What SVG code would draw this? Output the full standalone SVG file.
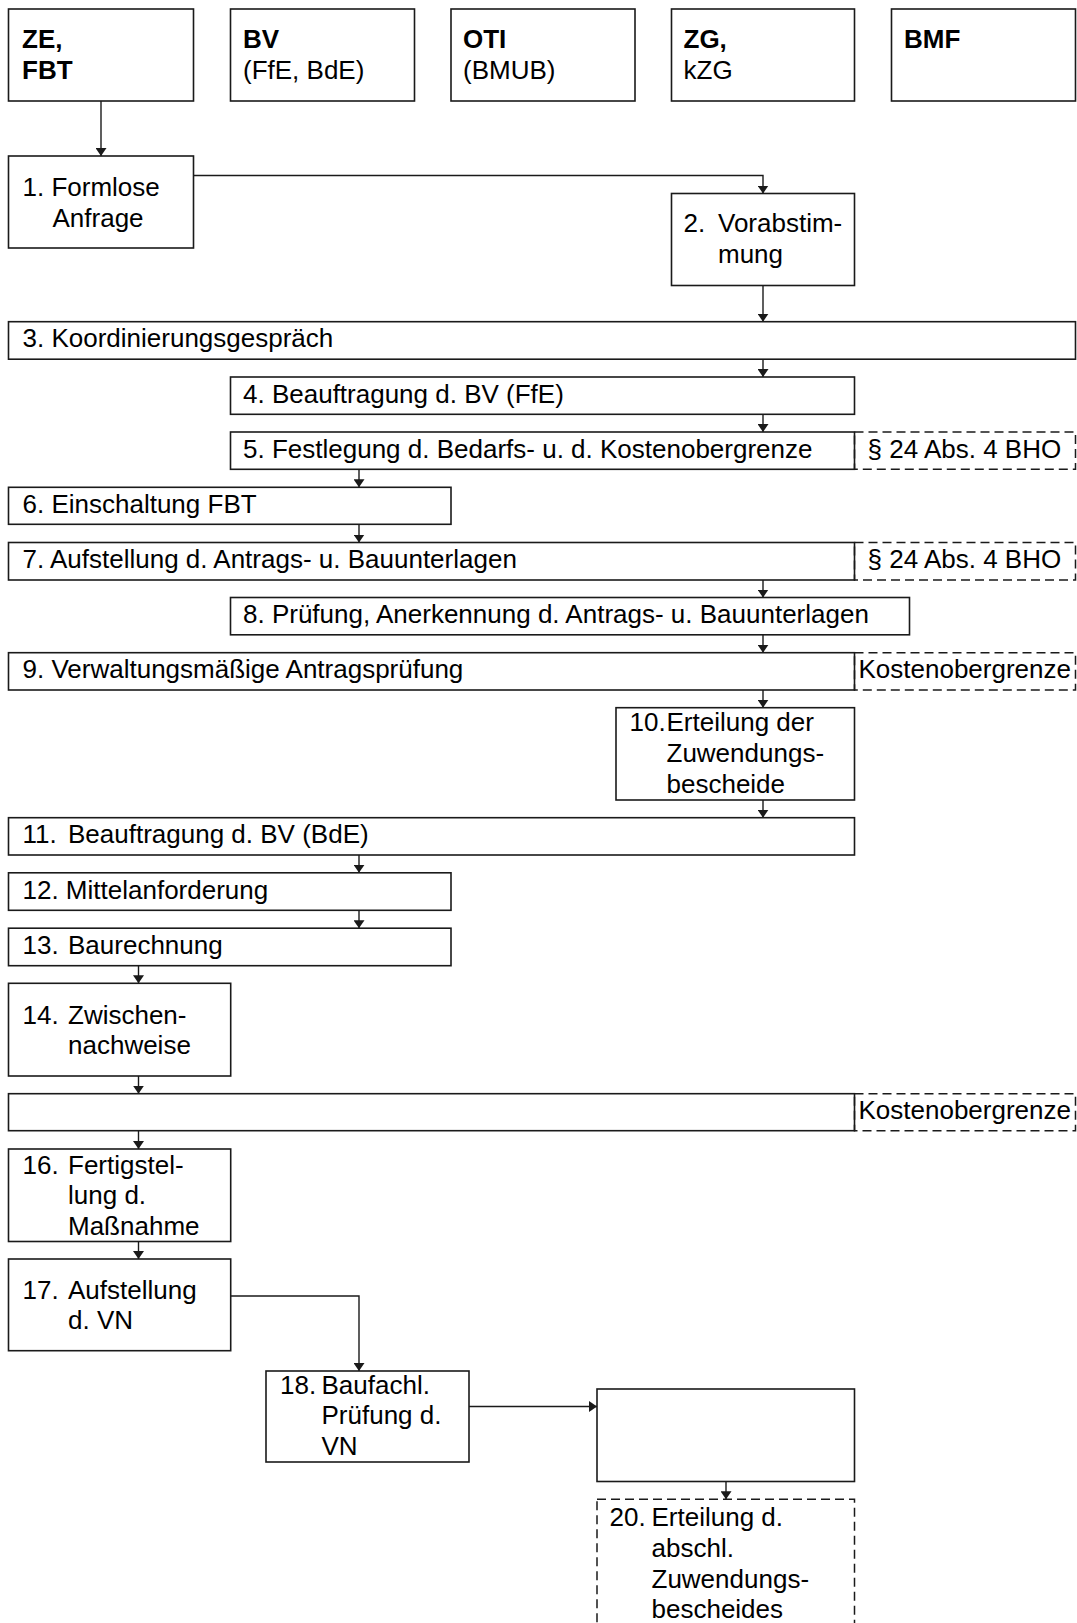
<svg xmlns="http://www.w3.org/2000/svg" width="1077" height="1623" viewBox="0 0 1077 1623">
<style>
  .bx { fill: #fff; stroke: #1a1a1a; stroke-width: 1.6; }
  .dbx { fill: none; stroke: #1a1a1a; stroke-width: 1.5; stroke-dasharray: 9 5; }
  .cn { fill: none; stroke: #1a1a1a; stroke-width: 1.4; marker-end: url(#ah); }
  text { font-family: "Liberation Sans", Arial, sans-serif; font-size: 26px; fill: #000; }
  .b { font-weight: bold; }
</style>
<defs>
  <marker id="ah" viewBox="0 0 8 11" refX="8" refY="5.5" markerWidth="8" markerHeight="11" markerUnits="userSpaceOnUse" orient="auto">
    <path d="M0,0 L8,5.5 L0,11 z" fill="#1a1a1a"/>
  </marker>
</defs>
<rect width="1077" height="1623" fill="#fff"/>

<g id="connectors">
  <path class="cn" d="M101,101 V156"/>
  <path class="cn" d="M193.5,175.5 H763 V193.5"/>
  <path class="cn" d="M763,285.5 V321.7"/>
  <path class="cn" d="M763,359.2 V377"/>
  <path class="cn" d="M763,414.3 V432"/>
  <path class="cn" d="M359,469.3 V487.3"/>
  <path class="cn" d="M359,524.3 V542.5"/>
  <path class="cn" d="M763,580 V597.5"/>
  <path class="cn" d="M763,634.8 V652.7"/>
  <path class="cn" d="M763,690 V707.7"/>
  <path class="cn" d="M763,800 V817.7"/>
  <path class="cn" d="M359,855 V872.8"/>
  <path class="cn" d="M359,910.3 V928.2"/>
  <path class="cn" d="M138.5,965.7 V983.3"/>
  <path class="cn" d="M138.5,1076 V1093.7"/>
  <path class="cn" d="M138.5,1130.7 V1149"/>
  <path class="cn" d="M138.5,1241.5 V1259"/>
  <path class="cn" d="M230.7,1296 H359 V1371"/>
  <path class="cn" d="M469,1406.5 H597"/>
  <path class="cn" d="M726,1481.5 V1499.3"/>
</g>

<g id="ze">
  <rect class="bx" x="8.5" y="9" width="185" height="92"/>
  <text class="b" x="22" y="48">ZE,</text>
  <text class="b" x="22" y="79">FBT</text>
</g>
<g id="bv">
  <rect class="bx" x="230.5" y="9" width="184" height="92"/>
  <text class="b" x="243" y="48">BV</text>
  <text x="243" y="79">(FfE, BdE)</text>
</g>
<g id="oti">
  <rect class="bx" x="451" y="9" width="184" height="92"/>
  <text class="b" x="463" y="48">OTI</text>
  <text x="463" y="79">(BMUB)</text>
</g>
<g id="zg">
  <rect class="bx" x="671.5" y="9" width="183" height="92"/>
  <text class="b" x="683.5" y="48">ZG,</text>
  <text x="683.5" y="79">kZG</text>
</g>
<g id="bmf">
  <rect class="bx" x="891.5" y="9" width="184" height="92"/>
  <text class="b" x="904" y="48">BMF</text>
</g>

<g id="n1">
  <rect class="bx" x="8.5" y="156" width="185" height="92"/>
  <text x="22.5" y="196">1. Formlose</text>
  <text x="52.5" y="227">Anfrage</text>
</g>
<g id="n2">
  <rect class="bx" x="671.5" y="193.5" width="183" height="92"/>
  <text x="683.5" y="232">2.</text>
  <text x="718" y="232">Vorabstim-</text>
  <text x="718" y="263">mung</text>
</g>
<g id="n3">
  <rect class="bx" x="8.5" y="321.7" width="1067" height="37.5"/>
  <text x="22.5" y="347.4">3. Koordinierungsgespräch</text>
</g>
<g id="n4">
  <rect class="bx" x="230.5" y="377" width="624" height="37.3"/>
  <text x="243" y="402.7">4. Beauftragung d. BV (FfE)</text>
</g>
<g id="n5">
  <rect class="bx" x="230.5" y="432" width="624" height="37.3"/>
  <text x="243" y="457.7">5. Festlegung d. Bedarfs- u. d. Kostenobergrenze</text>
  <rect class="dbx" x="854.5" y="432" width="221" height="37.3"/>
  <text x="867.5" y="457.7">§ 24 Abs. 4 BHO</text>
</g>
<g id="n6">
  <rect class="bx" x="8.5" y="487.3" width="442.5" height="37"/>
  <text x="22.5" y="513">6. Einschaltung FBT</text>
</g>
<g id="n7">
  <rect class="bx" x="8.5" y="542.5" width="846" height="37.5"/>
  <text x="22.5" y="568.2">7. Aufstellung d. Antrags- u. Bauunterlagen</text>
  <rect class="dbx" x="854.5" y="542.5" width="221" height="37.5"/>
  <text x="867.5" y="568.2">§ 24 Abs. 4 BHO</text>
</g>
<g id="n8">
  <rect class="bx" x="230.5" y="597.5" width="679" height="37.3"/>
  <text x="243" y="623.2">8. Prüfung, Anerkennung d. Antrags- u. Bauunterlagen</text>
</g>
<g id="n9">
  <rect class="bx" x="8.5" y="652.7" width="846" height="37.3"/>
  <text x="22.5" y="678.4">9. Verwaltungsmäßige Antragsprüfung</text>
  <rect class="dbx" x="854.5" y="652.7" width="221" height="37.3"/>
  <text x="858.5" y="678.4">Kostenobergrenze</text>
</g>
<g id="n10">
  <rect class="bx" x="616" y="707.7" width="238.5" height="92.3"/>
  <text x="629.5" y="731.2">10.</text>
  <text x="666.5" y="731.2">Erteilung der</text>
  <text x="666.5" y="762">Zuwendungs-</text>
  <text x="666.5" y="792.8">bescheide</text>
</g>
<g id="n11">
  <rect class="bx" x="8.5" y="817.7" width="846" height="37.3"/>
  <text x="22.5" y="843.4">11.</text>
  <text x="68" y="843.4">Beauftragung d. BV (BdE)</text>
</g>
<g id="n12">
  <rect class="bx" x="8.5" y="872.8" width="442.5" height="37.5"/>
  <text x="22.5" y="898.5">12. Mittelanforderung</text>
</g>
<g id="n13">
  <rect class="bx" x="8.5" y="928.2" width="442.5" height="37.5"/>
  <text x="22.5" y="953.9">13.</text>
  <text x="68" y="953.9">Baurechnung</text>
</g>
<g id="n14">
  <rect class="bx" x="8.5" y="983.3" width="222.2" height="92.7"/>
  <text x="22.5" y="1023.5">14.</text>
  <text x="68" y="1023.5">Zwischen-</text>
  <text x="68" y="1054.3">nachweise</text>
</g>
<g id="n15">
  <rect class="bx" x="8.5" y="1093.7" width="846" height="37"/>
  <rect class="dbx" x="854.5" y="1093.7" width="221" height="37"/>
  <text x="858.5" y="1119.2">Kostenobergrenze</text>
</g>
<g id="n16">
  <rect class="bx" x="8.5" y="1149" width="222.2" height="92.5"/>
  <text x="22.5" y="1173.5">16.</text>
  <text x="68" y="1173.5">Fertigstel-</text>
  <text x="68" y="1204.3">lung d.</text>
  <text x="68" y="1235.1">Maßnahme</text>
</g>
<g id="n17">
  <rect class="bx" x="8.5" y="1259" width="222.2" height="91.7"/>
  <text x="22.5" y="1298.5">17.</text>
  <text x="68" y="1298.5">Aufstellung</text>
  <text x="68" y="1329.3">d. VN</text>
</g>
<g id="n18">
  <rect class="bx" x="266" y="1371" width="203" height="91"/>
  <text x="280" y="1393.5">18.</text>
  <text x="321.5" y="1393.5">Baufachl.</text>
  <text x="321.5" y="1424.3">Prüfung d.</text>
  <text x="321.5" y="1455.1">VN</text>
</g>
<g id="n19">
  <rect class="bx" x="597" y="1389" width="257.5" height="92.5"/>
</g>
<g id="n20">
  <rect class="dbx" x="597" y="1499.3" width="257.5" height="140"/>
  <text x="609.5" y="1526">20.</text>
  <text x="651.5" y="1526">Erteilung d.</text>
  <text x="651.5" y="1556.8">abschl.</text>
  <text x="651.5" y="1587.6">Zuwendungs-</text>
  <text x="651.5" y="1618.4">bescheides</text>
</g>
</svg>
